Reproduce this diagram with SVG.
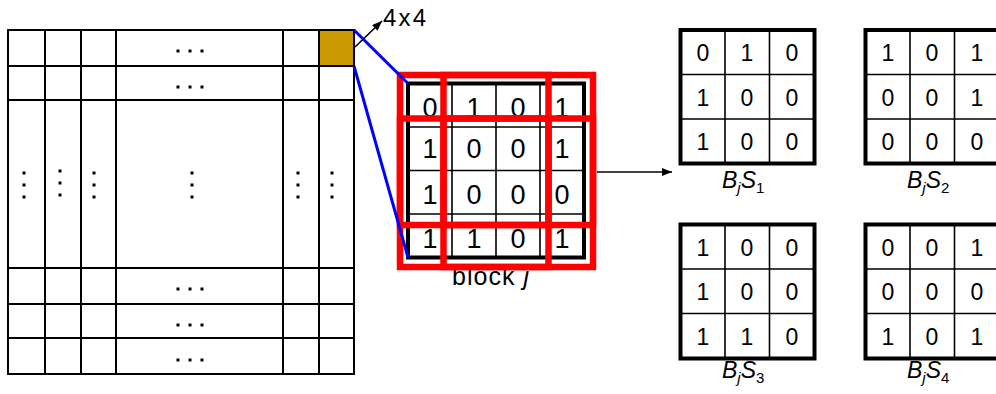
<svg xmlns="http://www.w3.org/2000/svg" width="996" height="394" viewBox="0 0 996 394">
<defs>
<style>
.g{stroke:#000;stroke-width:2;fill:none}
.thin{stroke:#000;stroke-width:1.6;fill:none}
.bord{stroke:#000;stroke-width:4;fill:none}
.blue{stroke:#0000ff;stroke-width:3;fill:none}
.red{stroke:#ff0000;stroke-width:6.5;fill:none}
.d{fill:#000}
text{font-family:"Liberation Sans",Arial,sans-serif;fill:#000}
.bd{font-size:27px;text-anchor:middle}
.sd{font-size:23px;text-anchor:middle}
.lab{font-size:23px}
.it{font-style:italic}
.sub{font-size:15px}
</style>
<marker id="ah" viewBox="0 0 10 8" refX="10" refY="4" markerWidth="10" markerHeight="8" markerUnits="userSpaceOnUse" orient="auto">
<path d="M0,0 L10,4 L0,8 z" fill="#000"/>
</marker>
<g id="hdots"><rect class="d" x="-1.5" y="-1.5" width="3" height="3"/><rect class="d" x="10.5" y="-1.5" width="3" height="3"/><rect class="d" x="22.5" y="-1.5" width="3" height="3"/></g>
<g id="vdots"><rect class="d" x="-1.5" y="-1.5" width="3" height="3"/><rect class="d" x="-1.5" y="10.5" width="3" height="3"/><rect class="d" x="-1.5" y="22.5" width="3" height="3"/></g>
</defs>
<rect width="996" height="394" fill="#fff"/>

<g id="image-matrix">
<rect x="319" y="30" width="35" height="36" fill="#cc9900"/>
<rect class="g" x="8" y="30" width="346" height="344"/>
<path class="g" d="M45,30V374M81,30V374M116,30V374M283,30V374M319,30V374M8,66H354M8,100H354M8,268H354M8,304H354M8,338H354"/>
<use href="#hdots" x="178" y="51"/>
<use href="#hdots" x="178" y="87"/>
<use href="#hdots" x="178" y="289"/>
<use href="#hdots" x="178" y="325"/>
<use href="#hdots" x="178" y="360"/>
<use href="#vdots" x="24" y="173"/>
<use href="#vdots" x="60" y="171"/>
<use href="#vdots" x="94" y="173"/>
<use href="#vdots" x="192" y="173"/>
<use href="#vdots" x="298" y="173"/>
<use href="#vdots" x="332" y="173"/>
</g>

<g id="size-label">
<text x="383" y="26" font-size="24" textLength="43">4x4</text>
</g>

<g id="block-j">
<rect class="bord" x="408" y="83.5" width="176" height="174"/>
<path class="thin" d="M452,83.5V257.5M496,83.5V257.5M540,83.5V257.5M408,127H584M408,170.5H584M408,214H584"/>
<text class="bd" x="430" y="117">0</text><text class="bd" x="474" y="117">1</text><text class="bd" x="518" y="117">0</text><text class="bd" x="562" y="117">1</text>
<text class="bd" x="430" y="158">1</text><text class="bd" x="474" y="158">0</text><text class="bd" x="518" y="158">0</text><text class="bd" x="562" y="158">1</text>
<text class="bd" x="430" y="204">1</text><text class="bd" x="474" y="204">0</text><text class="bd" x="518" y="204">0</text><text class="bd" x="562" y="204">0</text>
<text class="bd" x="430" y="248">1</text><text class="bd" x="474" y="248">1</text><text class="bd" x="518" y="248">0</text><text class="bd" x="562" y="248">1</text>
<text x="452" y="285" font-size="25" textLength="77">block <tspan class="it">j</tspan></text>
<g id="windows">
<rect class="red" x="400" y="75" width="148.5" height="150"/>
<rect class="red" x="443.5" y="75" width="149.5" height="150"/>
<rect class="red" x="400" y="118.5" width="148.5" height="148.5"/>
<rect class="red" x="443.5" y="118.5" width="149.5" height="148.5"/>
</g>
</g>

<g id="bjs1">
<rect class="bord" x="680.5" y="30" width="134" height="133.5"/>
<path class="thin" d="M725,30V163.5M769.5,30V163.5M680.5,74.5H814.5M680.5,119H814.5"/>
<text class="sd" x="703" y="61">0</text><text class="sd" x="747" y="61">1</text><text class="sd" x="792" y="61">0</text>
<text class="sd" x="703" y="105.5">1</text><text class="sd" x="747" y="105.5">0</text><text class="sd" x="792" y="105.5">0</text>
<text class="sd" x="703" y="150">1</text><text class="sd" x="747" y="150">0</text><text class="sd" x="792" y="150">0</text>
<text class="lab" x="722" y="188"><tspan class="it">B</tspan><tspan class="it sub" dy="5">j</tspan><tspan class="it" dy="-5">S</tspan><tspan class="sub" dy="5">1</tspan></text>
</g>

<g id="bjs2">
<rect class="bord" x="865.5" y="30" width="134" height="133.5"/>
<path class="thin" d="M910,30V163.5M954.5,30V163.5M865.5,74.5H999.5M865.5,119H999.5"/>
<text class="sd" x="888" y="61">1</text><text class="sd" x="932" y="61">0</text><text class="sd" x="977" y="61">1</text>
<text class="sd" x="888" y="105.5">0</text><text class="sd" x="932" y="105.5">0</text><text class="sd" x="977" y="105.5">1</text>
<text class="sd" x="888" y="150">0</text><text class="sd" x="932" y="150">0</text><text class="sd" x="977" y="150">0</text>
<text class="lab" x="907" y="188"><tspan class="it">B</tspan><tspan class="it sub" dy="5">j</tspan><tspan class="it" dy="-5">S</tspan><tspan class="sub" dy="5">2</tspan></text>
</g>

<g id="bjs3">
<rect class="bord" x="680.5" y="224.5" width="134" height="134"/>
<path class="thin" d="M725,224.5V358.5M769.5,224.5V358.5M680.5,269H814.5M680.5,313.5H814.5"/>
<text class="sd" x="703" y="255.5">1</text><text class="sd" x="747" y="255.5">0</text><text class="sd" x="792" y="255.5">0</text>
<text class="sd" x="703" y="300">1</text><text class="sd" x="747" y="300">0</text><text class="sd" x="792" y="300">0</text>
<text class="sd" x="703" y="344.5">1</text><text class="sd" x="747" y="344.5">1</text><text class="sd" x="792" y="344.5">0</text>
<text class="lab" x="722" y="378"><tspan class="it">B</tspan><tspan class="it sub" dy="5">j</tspan><tspan class="it" dy="-5">S</tspan><tspan class="sub" dy="5">3</tspan></text>
</g>

<g id="bjs4">
<rect class="bord" x="865.5" y="224.5" width="134" height="134"/>
<path class="thin" d="M910,224.5V358.5M954.5,224.5V358.5M865.5,269H999.5M865.5,313.5H999.5"/>
<text class="sd" x="888" y="255.5">0</text><text class="sd" x="932" y="255.5">0</text><text class="sd" x="977" y="255.5">1</text>
<text class="sd" x="888" y="300">0</text><text class="sd" x="932" y="300">0</text><text class="sd" x="977" y="300">0</text>
<text class="sd" x="888" y="344.5">1</text><text class="sd" x="932" y="344.5">0</text><text class="sd" x="977" y="344.5">1</text>
<text class="lab" x="907" y="378"><tspan class="it">B</tspan><tspan class="it sub" dy="5">j</tspan><tspan class="it" dy="-5">S</tspan><tspan class="sub" dy="5">4</tspan></text>
</g>

<g id="connectors">
<line class="blue" x1="354" y1="30" x2="408" y2="83.5"/>
<line class="blue" x1="354" y1="66" x2="408" y2="257.5"/>
<line x1="355" y1="47" x2="382" y2="21" stroke="#000" stroke-width="1.6" marker-end="url(#ah)"/>
<line x1="597" y1="172" x2="672" y2="172" stroke="#000" stroke-width="1.6" marker-end="url(#ah)"/>
</g>
</svg>
